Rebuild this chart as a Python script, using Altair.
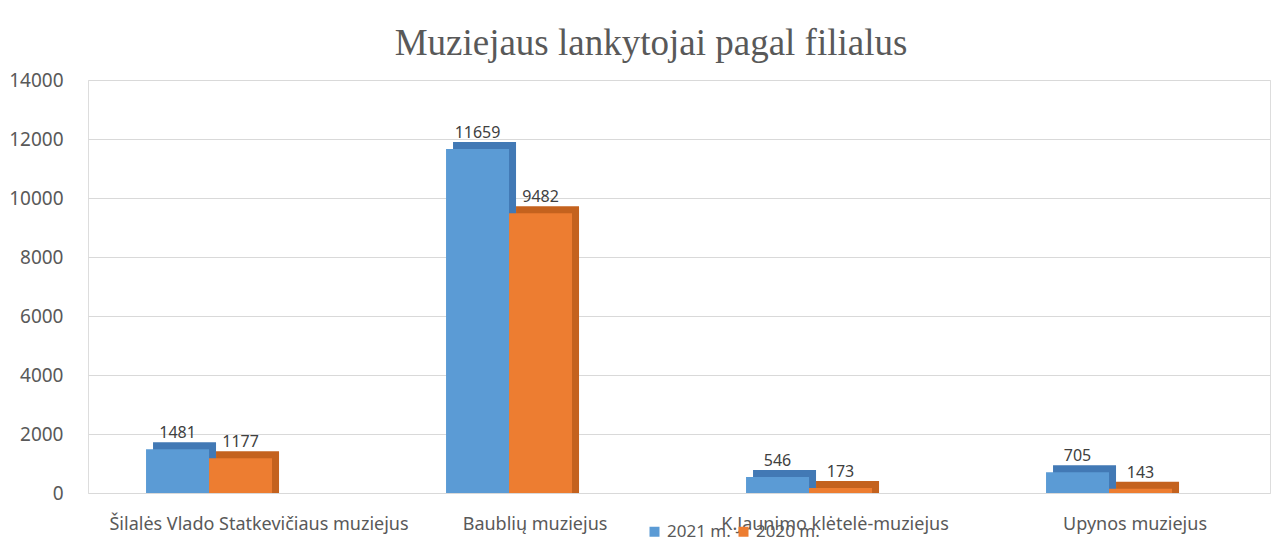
import altair as alt
import pandas as pd

categories = ["Šilalės Vlado Statkevičiaus muziejus", "Baublių muziejus",
              "K.Jaunimo klėtelė-muziejus", "Upynos muziejus"]
series = ["2021 m.", "2020 m."]
values_2021 = [1481, 11659, 546, 705]
values_2020 = [1177, 9482, 173, 143]

rows = []
for c, a, b in zip(categories, values_2021, values_2020):
    rows.append({"filialas": c, "metai": series[0], "lankytojai": a})
    rows.append({"filialas": c, "metai": series[1], "lankytojai": b})
df = pd.DataFrame(rows)

front = ["#5B9BD5", "#ED7D31"]
dark = ["#4279B5", "#C4621E"]

xenc = alt.X("filialas:N", sort=categories, title=None,
             scale=alt.Scale(paddingInner=0.58, paddingOuter=0.26, align=0.372),
             axis=alt.Axis(labelAngle=0, labelFont="Noto Sans", labelFontSize=18,
                           labelColor="#595959", ticks=False, domain=False,
                           labelPadding=22, labelLimit=400,
                           labelOffset={"condition": {"test": "datum.label == 'Šilalės Vlado Statkevičiaus muziejus'",
                                                      "value": 50}, "value": 26}))
yenc = alt.Y("lankytojai:Q", title=None,
             scale=alt.Scale(domain=[0, 14000]),
             axis=alt.Axis(values=list(range(0, 14001, 2000)), format="d",
                           labelFont="Noto Sans",
                           labelFontSize=19, labelColor="#595959", ticks=False,
                           domain=False, labelPadding=25, gridColor="#D9D9D9"))

base = alt.Chart(df)

shadow = base.mark_bar(yOffset=-7, y2Offset=0).encode(
    x=xenc, y=yenc, y2=alt.Y2Datum(0),
    xOffset=alt.XOffset("metai:N", sort=series,
                        scale=alt.Scale(domain=series, range=[7, 133])),
    color=alt.Color("metai:N", sort=series, scale=alt.Scale(domain=series, range=dark),
                    legend=None),
)

xoff = alt.XOffset("metai:N", sort=series)

bars = base.mark_bar().encode(
    x=xenc, y=yenc, xOffset=xoff,
    fill=alt.Fill("metai:N", sort=series, scale=alt.Scale(domain=series, range=front),
                  title=None,
                  legend=alt.Legend(orient="none", legendX=558, legendY=443,
                                    direction="horizontal", symbolType="square",
                                    symbolSize=100, labelFont="Noto Sans",
                                    labelFontSize=17, labelColor="#595959",
                                    columnPadding=4, symbolStrokeWidth=0)),
)

labels = base.mark_text(baseline="bottom", dy=-8, font="Noto Sans", fontSize=16,
                        color="#404040").encode(
    x=xenc, y=yenc, xOffset=xoff, text="lankytojai:Q",
)

chart = alt.layer(shadow, bars, labels).resolve_scale(
    color="independent", xOffset="independent"
).properties(
    width=1182, height=413,
    autosize=alt.AutoSizeParams(type="none"),
    padding={"left": 80, "top": 72, "right": 6, "bottom": 50},
    title=alt.TitleParams("Muziejaus lankytojai pagal filialus", font="Liberation Serif",
                          fontSize=37, fontWeight="normal", color="#595959",
                          offset=8, dx=-28),
).configure_view(stroke=None).configure(background="white")

chart.save("out.html", embed_options={"renderer": "svg", "actions": False})
